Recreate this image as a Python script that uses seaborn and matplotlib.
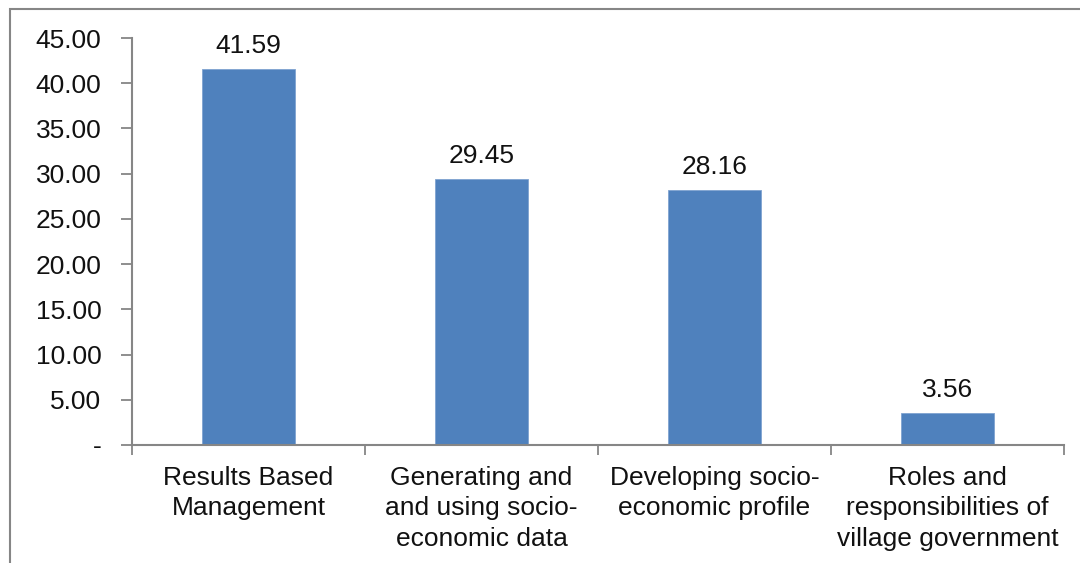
import matplotlib
matplotlib.use("Agg")
import matplotlib.pyplot as plt
import matplotlib.patches as mpatches
import seaborn as sns
import pandas as pd

categories = [
    "Results Based\nManagement",
    "Generating and\nand using socio-\neconomic data",
    "Developing socio-\neconomic profile",
    "Roles and\nresponsibilities of\nvillage government",
]
values = [41.59, 29.45, 28.16, 3.56]
y_ticks = [0, 5, 10, 15, 20, 25, 30, 35, 40, 45]
y_tick_labels = ["-"] + [f"{v:.2f}" for v in y_ticks[1:]]

sns.set_theme(style="white")
plt.rcParams["font.family"] = ["Liberation Sans", "DejaVu Sans"]

df = pd.DataFrame({"category": categories, "value": values})

fig = plt.figure(figsize=(10.8, 5.63), dpi=100)
ax = fig.add_axes([132 / 1080, 1 - 445 / 563, (1064 - 132) / 1080, (445 - 38) / 563])

sns.barplot(data=df, x="category", y="value", color="#4F81BD", width=0.4,
            saturation=1, edgecolor="#7FA3D0", linewidth=0.6, ax=ax)

ax.set_ylim(0, 45)
ax.set_xlim(-0.5, len(categories) - 0.5)
ax.set_yticks(y_ticks)
ax.set_yticklabels(y_tick_labels)
ax.set_xlabel("")
ax.set_ylabel("")

# category labels centered, with tick marks at category boundaries
ax.set_xticks(range(len(categories)))
ax.set_xticklabels(categories, fontsize=19, linespacing=1.35, color="#111111")
ax.tick_params(axis="x", length=0, pad=15)
ax.set_xticks([i - 0.5 for i in range(len(categories) + 1)], minor=True)
ax.tick_params(axis="x", which="minor", length=7, width=1.3, color="#868686", direction="out")
ax.tick_params(axis="y", length=8, width=1.3, color="#868686", direction="out",
               labelsize=19, pad=14, labelcolor="#111111")
ax.tick_params(left=True, bottom=False)
ax.tick_params(axis="x", which="minor", bottom=True)

for side in ["top", "right"]:
    ax.spines[side].set_visible(False)
for side in ["left", "bottom"]:
    ax.spines[side].set_color("#868686")
    ax.spines[side].set_linewidth(1.5)

for i, v in enumerate(values):
    ax.annotate(f"{v:.2f}", xy=(i, v), xytext=(0, 8), textcoords="offset points",
                ha="center", va="bottom", fontsize=19, color="#111111")

# outer chart frame
frame = mpatches.Rectangle((10 / 1080, -0.1), 1.2, 1 - 9 / 563 + 0.1,
                           transform=fig.transFigure, fill=False,
                           edgecolor="#868686", linewidth=1.5, clip_on=False)
fig.patches.append(frame)

fig.savefig("out.png", dpi=100, facecolor="white")
